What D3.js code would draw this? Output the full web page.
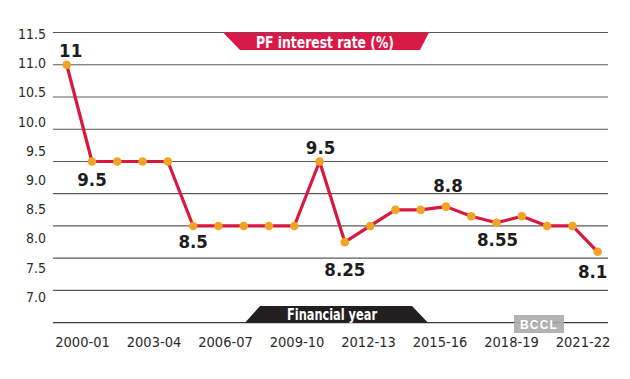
<!DOCTYPE html>
<html>
<head>
<meta charset="utf-8">
<script src="https://cdn.jsdelivr.net/npm/d3@7"></script>
<style>
  html, body { margin: 0; padding: 0; background: #fff; }
  svg { display: block; }
  .cond { font-family: "DejaVu Sans Condensed", "DejaVu Sans", sans-serif; font-stretch: condensed; }
</style>
</head>
<body>
<svg id="chart" width="630" height="379"></svg>
<script>
// ---- data ----
const years = ["2000-01","2001-02","2002-03","2003-04","2004-05","2005-06","2006-07","2007-08",
               "2008-09","2009-10","2010-11","2011-12","2012-13","2013-14","2014-15","2015-16",
               "2016-17","2017-18","2018-19","2019-20","2020-21","2021-22"];
const rates = [11, 9.5, 9.5, 9.5, 9.5, 8.5, 8.5, 8.5, 8.5, 8.5, 9.5, 8.25, 8.5, 8.75, 8.75, 8.8,
               8.65, 8.55, 8.65, 8.5, 8.5, 8.1];
const yTicks = [7.0, 7.5, 8.0, 8.5, 9.0, 9.5, 10.0, 10.5, 11.0, 11.5];
const xTickLabels = ["2000-01","2003-04","2006-07","2009-10","2012-13","2015-16","2018-19","2021-22"];
const labelledYears = ["2000-01","2001-02","2005-06","2010-11","2011-12","2015-16","2017-18","2021-22"];
const titleText = "PF interest rate (%)";
const xTitleText = "Financial year";

// ---- layout (not data) ----
const labelOffsets = [[4,-8],[0,25],[0,22],[1,-7],[0,34],[2,-14.5],[1,23],[-5,26]];

(function () {
const svg = d3.select("#chart");
const pLeft = 53, pRight = 608, pTop = 32.5, pBottom = 322.7;

const x = d3.scalePoint().domain(years).range([66.7, 597.7]);
const y = d3.scaleLinear().domain([7, 11.5]).range([pBottom, pTop]);
// tick labels in the original are placed on a slightly compressed scale
const yLab = d3.scaleLinear().domain([7, 11.5]).range([296.7, 34]);
const xLab = d3.scalePoint().domain(years).range([82.5, 583]);

// gridlines
svg.append("g").selectAll("line").data(yTicks.filter(d => d > 7)).join("line")
  .attr("x1", pLeft).attr("x2", pRight)
  .attr("y1", d => y(d)).attr("y2", d => y(d))
  .attr("stroke", "#5a5a5a").attr("stroke-width", 1.2);

// baseline
svg.append("line").attr("x1", pLeft).attr("x2", pRight)
  .attr("y1", y(7)).attr("y2", y(7))
  .attr("stroke", "#3a3a3a").attr("stroke-width", 1.3);

// y tick labels
svg.append("g").selectAll("text").data(yTicks).join("text")
  .attr("class", "cond")
  .attr("x", 46).attr("y", d => yLab(d)).attr("dy", "0.36em")
  .attr("text-anchor", "end").attr("font-size", 14).attr("fill", "#2a2a2a")
  .text(d => d3.format(".1f")(d));

// x tick labels
svg.append("g").selectAll("text").data(xTickLabels).join("text")
  .attr("class", "cond")
  .attr("x", d => xLab(d)).attr("y", 346.5)
  .attr("text-anchor", "middle").attr("font-size", 14.5).attr("fill", "#2a2a2a")
  .text(d => d);

// title banner
svg.append("path")
  .attr("d", d3.line()([[223, pTop], [429, pTop], [420, 50], [240, 50]]) + "Z")
  .attr("fill", "#d91a48");
svg.append("text").attr("class", "cond")
  .attr("x", 325).attr("y", 47.5).attr("text-anchor", "middle")
  .attr("font-size", 16.5).attr("font-weight", "bold").attr("fill", "#fff")
  .attr("textLength", 138).attr("lengthAdjust", "spacingAndGlyphs")
  .text(titleText);

// x title banner
svg.append("path")
  .attr("d", d3.line()([[245, pBottom], [260, 306], [412, 306], [428, pBottom]]) + "Z")
  .attr("fill", "#231f20");
svg.append("text").attr("class", "cond")
  .attr("x", 332).attr("y", 319.5).attr("text-anchor", "middle")
  .attr("font-size", 15).attr("font-weight", "bold").attr("fill", "#fff")
  .attr("textLength", 90).attr("lengthAdjust", "spacingAndGlyphs")
  .text(xTitleText);

// line
const pts = years.map((yr, i) => ({ yr, v: rates[i] }));
svg.append("path").datum(pts)
  .attr("d", d3.line().x(d => x(d.yr)).y(d => y(d.v)))
  .attr("fill", "none").attr("stroke", "#d7193f").attr("stroke-width", 3.2)
  .attr("stroke-linejoin", "round");

// points
svg.append("g").selectAll("circle").data(pts).join("circle")
  .attr("cx", d => x(d.yr)).attr("cy", d => y(d.v)).attr("r", 4.3)
  .attr("fill", "#f2a324");

// value labels
svg.append("g").selectAll("text").data(labelledYears).join("text")
  .attr("class", "cond")
  .attr("x", (d, i) => x(d) + labelOffsets[i][0])
  .attr("y", (d, i) => y(rates[years.indexOf(d)]) + labelOffsets[i][1])
  .attr("text-anchor", "middle").attr("font-size", 18.5).attr("font-weight", "bold")
  .attr("fill", "#1c1c1c")
  .text(d => String(rates[years.indexOf(d)]));

// BCCL watermark
svg.append("rect").attr("x", 514).attr("y", 315).attr("width", 50).attr("height", 18)
  .attr("fill", "#ababab").attr("opacity", 0.9);
svg.append("text").attr("x", 539).attr("y", 329).attr("text-anchor", "middle")
  .attr("font-family", "Liberation Sans, Arial, sans-serif").attr("font-weight", "bold")
  .attr("font-size", 12).attr("letter-spacing", 1.2).attr("fill", "#fff")
  .text("BCCL");
})();
</script>
</body>
</html>
